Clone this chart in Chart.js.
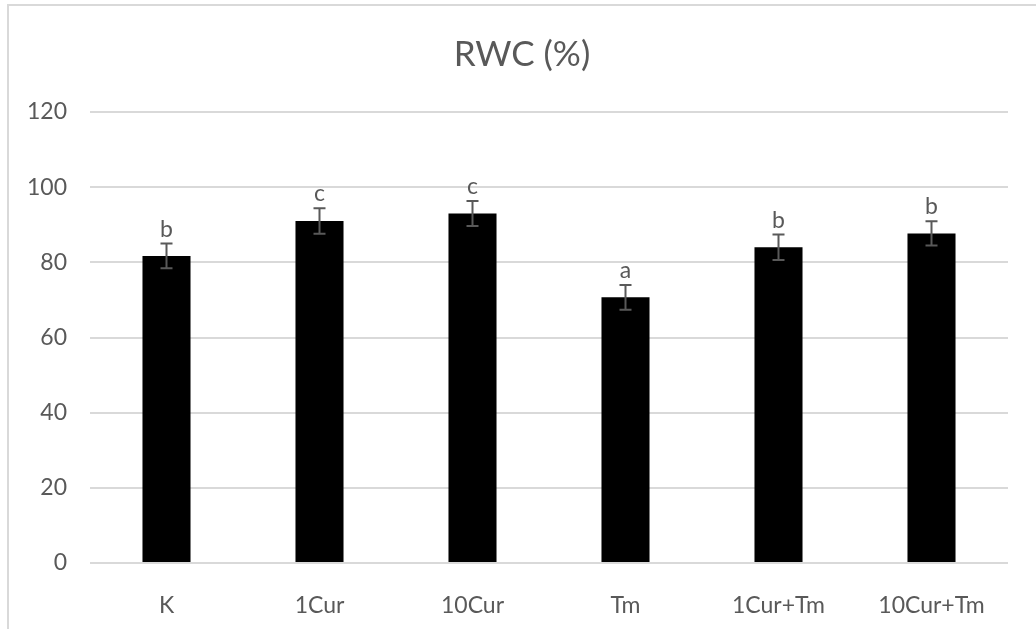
<!DOCTYPE html>
<html>
<head>
<meta charset="utf-8">
<script src="https://cdn.jsdelivr.net/npm/chart.js@4/dist/chart.umd.min.js"></script>
<style>
  html, body { margin: 0; padding: 0; background: #fff; }
  #wrap { width: 1036px; height: 629px; }
</style>
</head>
<body>
<div id="wrap"><canvas id="ChartRWC"></canvas></div>
<script>
var categories = ['K', '1Cur', '10Cur', 'Tm', '1Cur+Tm', '10Cur+Tm'];
var rwcValues = [81.7, 91.0, 93.0, 70.7, 84.0, 87.7];
var rwcErrors = [3.3, 3.4, 3.3, 3.3, 3.4, 3.2];
var groupLetters = ['b', 'c', 'c', 'a', 'b', 'b'];
var yTicks = [0, 20, 40, 60, 80, 100, 120];
var chartTitle = 'RWC (%)';

var textColor = '#595959';
var gridColor = '#d9d9d9';
var fontFamily = 'Lato, "Open Sans", sans-serif';

// error bars + significance letters, drawn through the y scale
var errorBarPlugin = {
    id: 'errorBars',
    afterDatasetsDraw: function (chart) {
        var ctx = chart.ctx;
        var y = chart.scales.y;
        var meta = chart.getDatasetMeta(0);
        ctx.save();
        ctx.strokeStyle = textColor;
        ctx.lineWidth = 2;
        meta.data.forEach(function (bar, i) {
            var top = y.getPixelForValue(rwcValues[i] + rwcErrors[i]);
            var bottom = y.getPixelForValue(rwcValues[i] - rwcErrors[i]);
            var x = bar.x;
            ctx.beginPath();
            ctx.moveTo(x, top); ctx.lineTo(x, bottom);
            ctx.moveTo(x - 6, top); ctx.lineTo(x + 6, top);
            ctx.moveTo(x - 6, bottom); ctx.lineTo(x + 6, bottom);
            ctx.stroke();

            ctx.fillStyle = textColor;
            ctx.font = '23px ' + fontFamily;
            ctx.textAlign = 'center';
            ctx.textBaseline = 'alphabetic';
            ctx.fillText(groupLetters[i], x, top - 7);
        });
        ctx.restore();
    }
};

// outer frame and title centred on the whole chart box
var framePlugin = {
    id: 'frame',
    beforeDraw: function (chart) {
        var ctx = chart.ctx;
        ctx.save();
        ctx.fillStyle = '#fff';
        ctx.fillRect(0, 0, chart.width, chart.height);
        ctx.strokeStyle = gridColor;
        ctx.lineWidth = 2;
        ctx.beginPath();
        ctx.moveTo(8, chart.height);
        ctx.lineTo(8, 5);
        ctx.lineTo(chart.width, 5);
        ctx.stroke();

        ctx.fillStyle = textColor;
        ctx.font = '35px ' + fontFamily;
        ctx.textAlign = 'center';
        ctx.textBaseline = 'alphabetic';
        ctx.fillText(chartTitle, (8 + chart.width) / 2, 66);
        ctx.restore();
    }
};

var ctx = document.getElementById('ChartRWC').getContext('2d');

var graph = new Chart(ctx, {
    type: 'bar',
    data: {
        labels: categories,
        datasets: [
            {
                label: chartTitle,
                backgroundColor: '#000000',
                borderWidth: 0,
                data: rwcValues,
                categoryPercentage: 1.0,
                barPercentage: 0.314
            }
        ]
    },
    options: {
        responsive: true,
        maintainAspectRatio: false,
        animation: false,
        layout: { padding: { left: 0, right: 28, top: 112, bottom: 0 } },
        plugins: {
            legend: { display: false },
            tooltip: { enabled: false },
            title: { display: false }
        },
        scales: {
            x: {
                grid: { display: false },
                border: { display: false },
                ticks: {
                    color: textColor,
                    font: { family: fontFamily, size: 23 },
                    padding: 21,
                    maxRotation: 0
                },
                afterFit: function (scale) { scale.height = 66; }
            },
            y: {
                min: 0,
                max: 120,
                afterBuildTicks: function (scale) {
                    scale.ticks = yTicks.map(function (v) { return { value: v }; });
                },
                grid: { color: gridColor, lineWidth: 2, drawTicks: false },
                border: { display: false },
                ticks: {
                    color: textColor,
                    font: { family: fontFamily, size: 23 },
                    padding: 23
                },
                afterFit: function (scale) { scale.width = 90; }
            }
        }
    },
    plugins: [framePlugin, errorBarPlugin]
});
</script>
</body>
</html>
